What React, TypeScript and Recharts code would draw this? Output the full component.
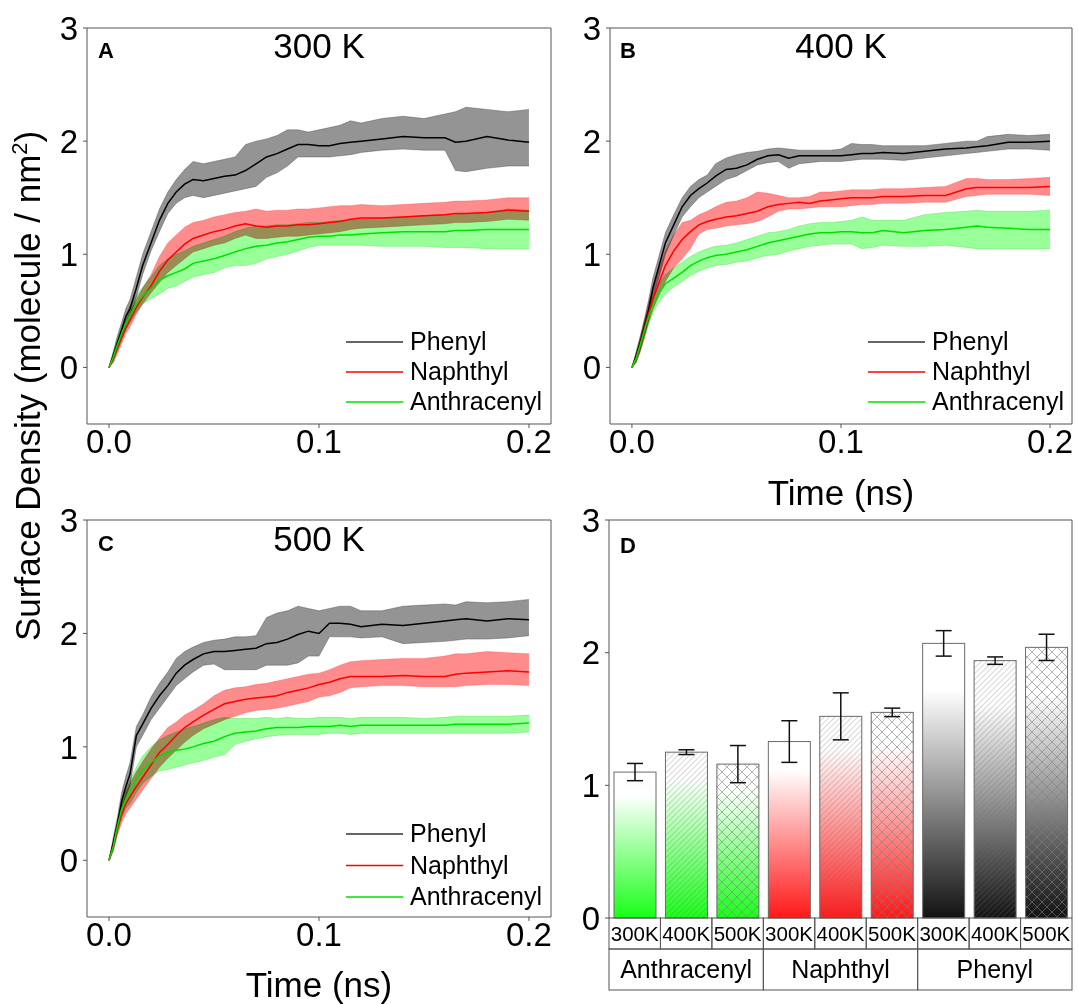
import {
  Area,
  Bar,
  ComposedChart,
  ErrorBar,
  Line,
  XAxis,
  YAxis,
} from "recharts";

const FONT = '"Liberation Sans", Arial, sans-serif';
const FRAME = "#555555";
const X_DOMAIN: [number, number] = [-0.0105, 0.2105];

// time axis shared by the three adsorption panels (ns)
const timeNs = [
  0, 0.002, 0.004, 0.006, 0.008, 0.01, 0.013, 0.016, 0.02, 0.024,
  0.028, 0.032, 0.036, 0.04, 0.045, 0.05, 0.055, 0.06, 0.065, 0.07,
  0.075, 0.08, 0.085, 0.09, 0.095, 0.1, 0.105, 0.11, 0.115, 0.12,
  0.13, 0.14, 0.15, 0.16, 0.165, 0.17, 0.18, 0.19, 0.2,
];

// 300 K
const phenyl300 = [
  0, 0.1, 0.22, 0.33, 0.45, 0.52, 0.7, 0.9, 1.1, 1.3,
  1.45, 1.55, 1.62, 1.66, 1.65, 1.67, 1.69, 1.7, 1.74, 1.8,
  1.86, 1.89, 1.93, 1.97, 1.97, 1.96, 1.96, 1.98, 1.99, 2.0,
  2.02, 2.04, 2.03, 2.03, 1.99, 2.0, 2.04, 2.01, 1.99,
];
const phenyl300Hi = [
  0, 0.14, 0.28, 0.4, 0.52, 0.6, 0.8, 1.0, 1.2, 1.4,
  1.55, 1.66, 1.75, 1.82, 1.8, 1.82, 1.84, 1.86, 1.97, 2.0,
  2.02, 2.05, 2.1, 2.1, 2.08, 2.1, 2.12, 2.14, 2.18, 2.16,
  2.2, 2.22, 2.2, 2.24, 2.26, 2.3, 2.28, 2.26, 2.28,
];
const phenyl300Lo = [
  0, 0.06, 0.17, 0.27, 0.38, 0.45, 0.62, 0.82, 1.03, 1.2,
  1.36, 1.45, 1.5, 1.52, 1.5, 1.52, 1.54, 1.56, 1.58, 1.6,
  1.68, 1.72, 1.78, 1.86, 1.86, 1.86, 1.86, 1.87, 1.88, 1.9,
  1.92, 1.93, 1.92, 1.92, 1.74, 1.73, 1.76, 1.78, 1.78,
];
const naphthyl300 = [
  0, 0.08, 0.17, 0.26, 0.35, 0.42, 0.53, 0.62, 0.72, 0.85,
  0.95, 1.02, 1.09, 1.14, 1.17, 1.2, 1.22, 1.25, 1.27, 1.25,
  1.24, 1.25, 1.25, 1.26, 1.26, 1.27, 1.28, 1.29, 1.31, 1.32,
  1.32, 1.33, 1.34, 1.35, 1.36, 1.36, 1.37, 1.39, 1.38,
];
const naphthyl300Hi = [
  0, 0.12, 0.22, 0.31, 0.41, 0.49, 0.6, 0.7, 0.82, 0.98,
  1.1, 1.17, 1.24, 1.28, 1.3, 1.33, 1.35, 1.37, 1.38, 1.4,
  1.38, 1.39, 1.39, 1.4, 1.4, 1.41, 1.42, 1.43, 1.43, 1.44,
  1.43, 1.44, 1.45, 1.46, 1.47, 1.47, 1.48, 1.5, 1.5,
];
const naphthyl300Lo = [
  0, 0.04, 0.12, 0.21, 0.3, 0.36, 0.47, 0.56, 0.66, 0.75,
  0.84, 0.9, 0.96, 1.02, 1.05, 1.08, 1.1, 1.14, 1.17, 1.14,
  1.14, 1.15, 1.16, 1.16, 1.17, 1.18, 1.19, 1.2, 1.22, 1.23,
  1.24, 1.25, 1.26, 1.27, 1.28, 1.28, 1.29, 1.31, 1.3,
];
const anthracenyl300 = [
  0, 0.09, 0.2, 0.3, 0.39, 0.46, 0.56, 0.63, 0.7, 0.77,
  0.81, 0.84, 0.87, 0.92, 0.94, 0.96, 0.99, 1.02, 1.05, 1.07,
  1.08, 1.1, 1.11, 1.13, 1.15, 1.16, 1.16, 1.17, 1.17, 1.18,
  1.19, 1.2, 1.2, 1.2, 1.21, 1.21, 1.22, 1.22, 1.22,
];
const anthracenyl300Hi = [
  0, 0.13, 0.25, 0.36, 0.46, 0.54, 0.63, 0.71, 0.8, 0.9,
  0.96, 1.0, 1.03, 1.07, 1.1, 1.13, 1.16, 1.2, 1.23, 1.25,
  1.25, 1.26, 1.26, 1.27, 1.28, 1.28, 1.29, 1.3, 1.3, 1.31,
  1.32, 1.33, 1.34, 1.35, 1.35, 1.36, 1.37, 1.4, 1.39,
];
const anthracenyl300Lo = [
  0, 0.06, 0.15, 0.25, 0.33, 0.4, 0.49, 0.56, 0.61, 0.65,
  0.7, 0.72, 0.76, 0.8, 0.82, 0.84, 0.88, 0.9, 0.9, 0.92,
  0.96, 0.98, 1.0, 1.03, 1.06, 1.08, 1.08, 1.08, 1.08, 1.08,
  1.07, 1.07, 1.07, 1.06, 1.06, 1.06, 1.05, 1.05, 1.05,
];

// 400 K
const phenyl400 = [
  0, 0.1, 0.22, 0.36, 0.51, 0.7, 0.9, 1.1, 1.26, 1.42,
  1.52, 1.58, 1.63, 1.69, 1.75, 1.76, 1.79, 1.84, 1.87, 1.88,
  1.85, 1.87, 1.87, 1.87, 1.87, 1.87, 1.88, 1.89, 1.89, 1.9,
  1.89, 1.91, 1.93, 1.94, 1.95, 1.96, 1.99, 1.99, 2.0,
];
const phenyl400Hi = [
  0, 0.14, 0.28, 0.43, 0.6, 0.79, 0.99, 1.19, 1.35, 1.5,
  1.6, 1.66, 1.7, 1.8, 1.85, 1.88, 1.9, 1.91, 1.93, 1.94,
  1.93, 1.92, 1.92, 1.92, 1.92, 1.93, 1.98, 1.97, 1.97, 1.96,
  1.96, 1.96, 1.98, 2.0, 2.0, 2.04, 2.06, 2.05, 2.06,
];
const phenyl400Lo = [
  0, 0.06, 0.16, 0.29, 0.42, 0.6, 0.8, 1.0, 1.17, 1.33,
  1.42, 1.5, 1.55, 1.6, 1.66, 1.69, 1.74, 1.79, 1.81, 1.82,
  1.76, 1.8, 1.81, 1.82, 1.82, 1.82, 1.83, 1.84, 1.84, 1.84,
  1.83, 1.85, 1.87, 1.89, 1.9, 1.91, 1.93, 1.93, 1.92,
];
const naphthyl400 = [
  0, 0.08, 0.2, 0.34, 0.48, 0.6, 0.75, 0.9, 1.03, 1.13,
  1.2, 1.26, 1.29, 1.31, 1.33, 1.34, 1.36, 1.38, 1.42, 1.44,
  1.45, 1.46, 1.45, 1.47, 1.48, 1.49, 1.5, 1.5, 1.5, 1.51,
  1.51, 1.52, 1.52, 1.58, 1.59, 1.59, 1.59, 1.59, 1.6,
];
const naphthyl400Hi = [
  0, 0.12, 0.26, 0.42, 0.57, 0.7, 0.87, 1.03, 1.17, 1.28,
  1.3, 1.35, 1.38, 1.42, 1.46, 1.47, 1.5, 1.55, 1.54, 1.52,
  1.5, 1.5, 1.51, 1.55, 1.55, 1.56, 1.57, 1.57, 1.57, 1.58,
  1.58, 1.59, 1.6, 1.67, 1.67, 1.66, 1.66, 1.67, 1.68,
];
const naphthyl400Lo = [
  0, 0.04, 0.14, 0.27, 0.4, 0.51, 0.64, 0.76, 0.88, 0.96,
  1.05, 1.18, 1.22, 1.23, 1.25, 1.26, 1.27, 1.29, 1.33, 1.38,
  1.4, 1.4, 1.41, 1.42, 1.42, 1.42, 1.43, 1.44, 1.44, 1.45,
  1.45, 1.46, 1.46, 1.51, 1.52, 1.53, 1.53, 1.53, 1.52,
];
const anthracenyl400 = [
  0, 0.08, 0.2, 0.33, 0.45, 0.55, 0.66, 0.74, 0.79, 0.84,
  0.9, 0.94, 0.97, 0.99, 1.0, 1.02, 1.04, 1.07, 1.1, 1.12,
  1.14, 1.16, 1.18, 1.19, 1.19, 1.2, 1.2, 1.19, 1.19, 1.21,
  1.19, 1.21, 1.22, 1.24, 1.25, 1.24, 1.23, 1.22, 1.22,
];
const anthracenyl400Hi = [
  0, 0.12, 0.26, 0.4, 0.52, 0.62, 0.74, 0.82, 0.88, 0.93,
  0.98, 1.02, 1.05, 1.07, 1.08, 1.1, 1.13, 1.16, 1.19, 1.2,
  1.22, 1.25, 1.27, 1.28, 1.28, 1.29, 1.3, 1.33, 1.3, 1.3,
  1.3, 1.35, 1.37, 1.38, 1.39, 1.38, 1.38, 1.38, 1.39,
];
const anthracenyl400Lo = [
  0, 0.04, 0.14, 0.26, 0.38, 0.48, 0.58, 0.65, 0.71, 0.76,
  0.81, 0.85, 0.88, 0.9, 0.91, 0.93, 0.94, 0.97, 0.99, 1.0,
  1.03, 1.05, 1.07, 1.08, 1.09, 1.09, 1.09, 1.05, 1.06, 1.08,
  1.07, 1.07, 1.08, 1.06, 1.05, 1.05, 1.05, 1.05, 1.05,
];

// 500 K
const phenyl500 = [
  0, 0.15, 0.32, 0.52, 0.65, 0.76, 1.1, 1.2, 1.34, 1.45,
  1.54, 1.65, 1.72, 1.77, 1.82, 1.84, 1.84, 1.85, 1.86, 1.87,
  1.91, 1.92, 1.95, 1.99, 2.02, 2.0, 2.09, 2.09, 2.08, 2.06,
  2.08, 2.07, 2.09, 2.11, 2.12, 2.13, 2.11, 2.13, 2.12,
];
const phenyl500Hi = [
  0, 0.2, 0.38, 0.6, 0.74, 0.86, 1.18, 1.28, 1.44, 1.56,
  1.66, 1.78, 1.84, 1.88, 1.92, 1.94, 1.95, 1.97, 1.97, 1.98,
  2.14, 2.18, 2.2, 2.24, 2.22, 2.2, 2.22, 2.24, 2.24, 2.2,
  2.2, 2.24, 2.25, 2.26, 2.25, 2.28, 2.27, 2.28, 2.3,
];
const phenyl500Lo = [
  0, 0.1, 0.26, 0.44, 0.56, 0.66, 1.0, 1.1, 1.24, 1.34,
  1.44, 1.54, 1.6, 1.66, 1.72, 1.73, 1.68, 1.68, 1.68, 1.68,
  1.72, 1.72, 1.72, 1.74, 1.8, 1.8, 1.97, 1.97, 1.97, 1.96,
  1.97, 1.91, 1.92, 1.93, 1.94, 1.95, 1.95, 1.96, 1.98,
];
const naphthyl500 = [
  0, 0.12, 0.28, 0.4, 0.5, 0.56, 0.65, 0.73, 0.84, 0.95,
  1.02, 1.1, 1.17, 1.22, 1.28, 1.33, 1.38, 1.4, 1.42, 1.43,
  1.44, 1.45, 1.48, 1.5, 1.52, 1.55, 1.57, 1.6, 1.62, 1.62,
  1.62, 1.63, 1.62, 1.62, 1.64, 1.65, 1.66, 1.67, 1.66,
];
const naphthyl500Hi = [
  0, 0.16, 0.34, 0.48, 0.6, 0.68, 0.78, 0.87, 0.98, 1.08,
  1.17, 1.22, 1.28, 1.32, 1.38, 1.45, 1.5, 1.52, 1.53, 1.55,
  1.56, 1.58, 1.6, 1.62, 1.64, 1.65, 1.68, 1.72, 1.75, 1.76,
  1.77, 1.78, 1.78, 1.8, 1.82, 1.82, 1.84, 1.83, 1.82,
];
const naphthyl500Lo = [
  0, 0.08, 0.22, 0.33, 0.41, 0.46, 0.54, 0.62, 0.72, 0.82,
  0.9, 0.97, 1.04, 1.1, 1.16, 1.2, 1.24, 1.27, 1.3, 1.32,
  1.33, 1.34, 1.36, 1.38, 1.4, 1.44, 1.45, 1.48, 1.52, 1.53,
  1.54, 1.54, 1.53, 1.53, 1.53, 1.54, 1.55, 1.55, 1.54,
];
const anthracenyl500 = [
  0, 0.12, 0.3, 0.45, 0.54, 0.6, 0.72, 0.8, 0.86, 0.92,
  0.95, 0.97, 0.98, 1.0, 1.03, 1.05, 1.09, 1.12, 1.13, 1.14,
  1.16, 1.17, 1.17, 1.17, 1.18, 1.18, 1.18, 1.19, 1.18, 1.19,
  1.19, 1.19, 1.19, 1.19, 1.2, 1.2, 1.2, 1.2, 1.21,
];
const anthracenyl500Hi = [
  0, 0.17, 0.36, 0.52, 0.63, 0.7, 0.82, 0.92, 1.0, 1.06,
  1.1, 1.13, 1.16, 1.18, 1.21, 1.24, 1.26, 1.25, 1.25, 1.25,
  1.26, 1.25, 1.26, 1.25, 1.25, 1.26, 1.26, 1.26, 1.25, 1.26,
  1.26, 1.26, 1.25, 1.26, 1.27, 1.27, 1.27, 1.27, 1.28,
];
const anthracenyl500Lo = [
  0, 0.08, 0.24, 0.38, 0.46, 0.5, 0.6, 0.68, 0.74, 0.79,
  0.8, 0.82, 0.84, 0.86, 0.88, 0.91, 0.93, 1.02, 1.05, 1.07,
  1.09, 1.1, 1.11, 1.11, 1.11, 1.11, 1.12, 1.12, 1.11, 1.12,
  1.12, 1.12, 1.12, 1.12, 1.12, 1.12, 1.12, 1.12, 1.13,
];

// panel D: average surface density
const barGroups = ["Anthracenyl", "Naphthyl", "Phenyl"];
const barTemps = ["300K", "400K", "500K"];
const barMeans = [1.1, 1.25, 1.16, 1.33, 1.52, 1.55, 2.07, 1.94, 2.04];
const barErrors = [0.065, 0.018, 0.14, 0.157, 0.177, 0.032, 0.096, 0.028, 0.099];

const series = [
  { key: "phenyl", name: "Phenyl", line: "#000000", fill: "#000000", fillOpacity: 0.42, edge: "#333333", legend: "#333333" },
  { key: "naphthyl", name: "Naphthyl", line: "#ff0000", fill: "#ff0000", fillOpacity: 0.45, edge: "#ff4444", legend: "#ff0000" },
  { key: "anthracenyl", name: "Anthracenyl", line: "#00e000", fill: "#00ff00", fillOpacity: 0.4, edge: "#33dd33", legend: "#00e000" },
];

function buildRows(
  ph: number[], phLo: number[], phHi: number[],
  na: number[], naLo: number[], naHi: number[],
  an: number[], anLo: number[], anHi: number[],
) {
  return timeNs.map((t, i) => ({
    t,
    phenyl: ph[i],
    phenylBand: [phLo[i], phHi[i]],
    naphthyl: na[i],
    naphthylBand: [naLo[i], naHi[i]],
    anthracenyl: an[i],
    anthracenylBand: [anLo[i], anHi[i]],
  }));
}

const rows300 = buildRows(phenyl300, phenyl300Lo, phenyl300Hi, naphthyl300, naphthyl300Lo, naphthyl300Hi, anthracenyl300, anthracenyl300Lo, anthracenyl300Hi);
const rows400 = buildRows(phenyl400, phenyl400Lo, phenyl400Hi, naphthyl400, naphthyl400Lo, naphthyl400Hi, anthracenyl400, anthracenyl400Lo, anthracenyl400Hi);
const rows500 = buildRows(phenyl500, phenyl500Lo, phenyl500Hi, naphthyl500, naphthyl500Lo, naphthyl500Hi, anthracenyl500, anthracenyl500Lo, anthracenyl500Hi);

const barRows = barMeans.map((value, i) => ({
  key: `${barGroups[Math.floor(i / 3)]} ${barTemps[i % 3]}`,
  group: barGroups[Math.floor(i / 3)],
  temp: barTemps[i % 3],
  value,
  err: barErrors[i],
}));

const tickText = { fill: "#000", fontSize: 33, fontFamily: FONT };

interface TimePanelProps {
  rows: ReturnType<typeof buildRows>;
  left: number;
  top: number;
  width: number;
  height: number;
  marginRight: number;
}

function TimePanel({ rows, left, top, width, height, marginRight }: TimePanelProps) {
  return (
    <div style={{ position: "absolute", left, top }}>
      <ComposedChart width={width} height={height} data={rows} margin={{ top: 27, right: marginRight - 1, bottom: 0, left: 0 }}>
        <XAxis
          dataKey="t"
          type="number"
          domain={X_DOMAIN}
          allowDataOverflow
          ticks={[0, 0.1, 0.2]}
          tickFormatter={(v: number) => v.toFixed(1)}
          height={46}
          tickSize={4}
          tickMargin={2}
          stroke={FRAME}
          tick={tickText}
        />
        {/* top and right axes only close the frame */}
        <XAxis xAxisId="top" dataKey="t" orientation="top" type="number" domain={X_DOMAIN} allowDataOverflow tick={false} tickLine={false} height={1} stroke={FRAME} />
        <YAxis type="number" domain={[-0.5, 3]} ticks={[0, 1, 2, 3]} allowDataOverflow width={87} tickSize={4} tickMargin={5} stroke={FRAME} tick={tickText} />
        <YAxis yAxisId="right" orientation="right" type="number" domain={[-0.5, 3]} allowDataOverflow tick={false} tickLine={false} width={1} stroke={FRAME} />
        {series.map((s) => (
          <Area
            key={s.key + "Band"}
            className="band"
            type="linear"
            dataKey={s.key + "Band"}
            stroke={s.edge}
            strokeOpacity={0.5}
            strokeWidth={0.7}
            fill={s.fill}
            fillOpacity={s.fillOpacity}
            dot={false}
            activeDot={false}
            isAnimationActive={false}
          />
        ))}
        {series.map((s) => (
          <Line
            key={s.key}
            type="linear"
            dataKey={s.key}
            stroke={s.line}
            strokeWidth={1.5}
            dot={false}
            activeDot={false}
            isAnimationActive={false}
          />
        ))}
        <Line xAxisId="top" yAxisId="right" dataKey="phenyl" stroke="none" dot={false} activeDot={false} legendType="none" isAnimationActive={false} />
      </ComposedChart>
    </div>
  );
}

const D_WIDTH = 556;
const D_PLOT = D_WIDTH - 87 - 6;
const SLOT = D_PLOT / barRows.length;

function TableTick(props: any) {
  const { x, y, index } = props;
  const row = barRows[index];
  if (!row) return null;
  return (
    <g>
      <rect x={x - SLOT / 2} y={y} width={SLOT} height={31} fill="none" stroke={FRAME} strokeWidth={1} />
      <text x={x} y={y + 23} textAnchor="middle" fontSize={20.5} fontFamily={FONT} fill="#000">
        {row.temp}
      </text>
      {index % 3 === 1 && (
        <g>
          <rect x={x - 1.5 * SLOT} y={y + 31} width={3 * SLOT} height={41} fill="none" stroke={FRAME} strokeWidth={1} />
          <text x={x} y={y + 60} textAnchor="middle" fontSize={25} fontFamily={FONT} fill="#000">
            {row.group}
          </text>
        </g>
      )}
    </g>
  );
}

const gradIds = ["gradGreen", "gradRed", "gradBlack"];
const hatchIds = ["", "hatchDiag", "hatchCross"];

function HatchedBar(props: any) {
  const { x, y, width, height, payload } = props;
  const g = barGroups.indexOf(payload.group);
  const k = barTemps.indexOf(payload.temp);
  return (
    <g>
      <rect x={x} y={y} width={width} height={height} fill={`url(#${gradIds[g]})`} />
      {k > 0 && <rect x={x} y={y} width={width} height={height} fill={`url(#${hatchIds[k]})`} />}
      <rect x={x} y={y} width={width} height={height} fill="none" stroke="#6a6a6a" strokeWidth={1} />
    </g>
  );
}

function BarPanel() {
  return (
    <div style={{ position: "absolute", left: 522, top: 492 }}>
      <ComposedChart width={D_WIDTH} height={512} data={barRows} margin={{ top: 27, right: 5, bottom: 14, left: 0 }} barSize={42}>
        <defs>
          <linearGradient id="gradGreen" x1="0" y1="0" x2="0" y2="1">
            <stop offset="0" stopColor="#ffffff" />
            <stop offset="0.16" stopColor="#ffffff" />
            <stop offset="1" stopColor="#18ff18" />
          </linearGradient>
          <linearGradient id="gradRed" x1="0" y1="0" x2="0" y2="1">
            <stop offset="0" stopColor="#ffffff" />
            <stop offset="0.16" stopColor="#ffffff" />
            <stop offset="1" stopColor="#ff1818" />
          </linearGradient>
          <linearGradient id="gradBlack" x1="0" y1="0" x2="0" y2="1">
            <stop offset="0" stopColor="#ffffff" />
            <stop offset="0.17" stopColor="#ffffff" />
            <stop offset="1" stopColor="#121212" />
          </linearGradient>
          <pattern id="hatchDiag" patternUnits="userSpaceOnUse" width="4" height="4" patternTransform="rotate(45)">
            <line x1="0" y1="0" x2="0" y2="4" stroke="#707070" strokeWidth="0.8" strokeOpacity="0.7" />
          </pattern>
          <pattern id="hatchCross" patternUnits="userSpaceOnUse" width="10" height="10">
            <path d="M0,0 L10,10 M10,0 L0,10" stroke="#808080" strokeWidth="0.8" strokeOpacity="0.75" />
          </pattern>
        </defs>
        <XAxis dataKey="key" height={72} tickSize={0} tickMargin={0} axisLine={false} tickLine={false} interval={0} tick={(p: any) => <TableTick {...p} />} />
        <XAxis xAxisId="top" dataKey="key" orientation="top" tick={false} tickLine={false} height={1} stroke={FRAME} />
        <YAxis type="number" domain={[0, 3]} ticks={[0, 1, 2, 3]} width={87} tickSize={4} tickMargin={5} stroke={FRAME} tick={tickText} />
        <YAxis yAxisId="right" orientation="right" type="number" domain={[0, 3]} tick={false} tickLine={false} width={1} stroke={FRAME} />
        <Bar dataKey="value" shape={(p: any) => <HatchedBar {...p} />} isAnimationActive={false}>
          <ErrorBar dataKey="err" direction="y" width={8} stroke="#111" strokeWidth={1.5} />
        </Bar>
        <Line xAxisId="top" yAxisId="right" dataKey="value" stroke="none" dot={false} activeDot={false} legendType="none" isAnimationActive={false} />
      </ComposedChart>
    </div>
  );
}

function LegendBlock({ x, y, gap }: { x: number; y: number; gap: number }) {
  return (
    <g>
      {series.map((s, i) => (
        <g key={s.key}>
          <line x1={x} x2={x + 57} y1={y + i * gap} y2={y + i * gap} stroke={s.legend} strokeWidth={1.5} />
          <text x={x + 64} y={y + i * gap + 8} fontSize={25} fontFamily={FONT} fill="#000">
            {s.name}
          </text>
        </g>
      ))}
    </g>
  );
}

export default function App() {
  return (
    <div style={{ position: "absolute", left: 0, top: 0, width: 1078, height: 1004, background: "#fff", fontFamily: FONT }}>
      <style>{`.band { mix-blend-mode: multiply; }`}</style>
      <TimePanel rows={rows300} left={0} top={0} width={560} height={470} marginRight={9} />
      <TimePanel rows={rows400} left={523} top={0} width={555} height={470} marginRight={6} />
      <TimePanel rows={rows500} left={0} top={492} width={560} height={471} marginRight={9} />
      <BarPanel />
      <svg width={1078} height={1004} style={{ position: "absolute", left: 0, top: 0, pointerEvents: "none" }}>
        <text transform="translate(40,641) rotate(-90)" fontSize={35} fontFamily={FONT} fill="#000">
          Surface Density (molecule / nm
          <tspan fontSize={22} dy={-13}>2</tspan>
          <tspan dy={13}>)</tspan>
        </text>
        <text x={98} y={58} fontSize={22} fontWeight="bold" fontFamily={FONT}>A</text>
        <text x={620} y={58} fontSize={22} fontWeight="bold" fontFamily={FONT}>B</text>
        <text x={98} y={551} fontSize={22} fontWeight="bold" fontFamily={FONT}>C</text>
        <text x={620} y={553} fontSize={22} fontWeight="bold" fontFamily={FONT}>D</text>
        <text x={319} y={58} textAnchor="middle" fontSize={35} fontFamily={FONT}>300 K</text>
        <text x={841} y={58} textAnchor="middle" fontSize={35} fontFamily={FONT}>400 K</text>
        <text x={319} y={551} textAnchor="middle" fontSize={35} fontFamily={FONT}>500 K</text>
        <text x={841} y={505} textAnchor="middle" fontSize={35} fontFamily={FONT}>Time (ns)</text>
        <text x={319} y={997} textAnchor="middle" fontSize={35} fontFamily={FONT}>Time (ns)</text>
        <LegendBlock x={346} y={342} gap={30} />
        <LegendBlock x={868} y={342} gap={30} />
        <LegendBlock x={346} y={834} gap={31.5} />
      </svg>
    </div>
  );
}
